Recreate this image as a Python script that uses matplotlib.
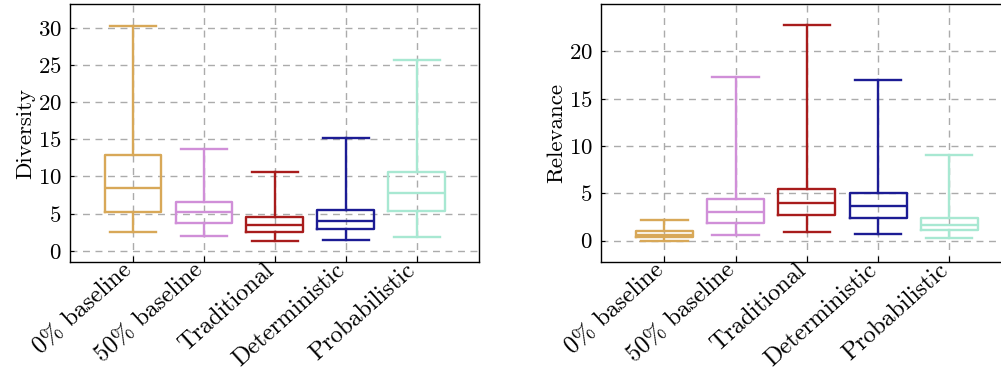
import matplotlib.pyplot as plt

plt.rcParams['font.family'] = ['cmr10', 'DejaVu Serif']
plt.rcParams['axes.formatter.use_mathtext'] = True

methods = ['0% baseline', '50% baseline', 'Traditional', 'Deterministic', 'Probabilistic']
colors = ['#D8A858', '#D08FD8', '#A81C1C', '#1C1C94', '#A8E8D2']

# whisker low, Q1, median, Q3, whisker high
diversity_low = [2.5, 2.0, 1.35, 1.4, 1.85]
diversity_q1 = [5.25, 3.75, 2.55, 2.95, 5.3]
diversity_med = [8.4, 5.2, 3.45, 4.0, 7.8]
diversity_q3 = [12.9, 6.6, 4.6, 5.5, 10.65]
diversity_high = [30.25, 13.75, 10.6, 15.15, 25.65]

relevance_low = [0.02, 0.56, 0.88, 0.7, 0.25]
relevance_q1 = [0.35, 1.87, 2.68, 2.43, 1.1]
relevance_med = [0.63, 3.0, 4.0, 3.66, 1.7]
relevance_q3 = [0.98, 4.37, 5.5, 5.07, 2.43]
relevance_high = [2.22, 17.3, 22.75, 17.0, 9.05]


def make_stats(low, q1, med, q3, high):
    stats = []
    for i in range(len(methods)):
        stats.append(dict(whislo=low[i], q1=q1[i], med=med[i], q3=q3[i],
                          whishi=high[i], fliers=[]))
    return stats


def draw_panel(ax, stats, ylabel, ylim, yticks):
    ax.set_axisbelow(True)
    ax.grid(True, color='#ababab', linestyle=(0, (5, 4)), linewidth=1.0)
    pos = list(range(1, len(methods) + 1))
    bp = ax.bxp(stats, positions=pos, widths=0.8, capwidths=0.65,
                showfliers=False, patch_artist=False)
    for i, c in enumerate(colors):
        for key, n in (('boxes', 1), ('medians', 1), ('whiskers', 2), ('caps', 2)):
            for line in bp[key][i * n:(i + 1) * n]:
                line.set_color(c)
                line.set_linewidth(1.7)
    ax.set_xlim(0.11, 5.88)
    ax.set_ylim(*ylim)
    ax.set_yticks(yticks)
    ax.set_xticks(pos)
    ax.set_xticklabels(methods, rotation=42, ha='right', va='baseline',
                       rotation_mode='anchor', fontsize=17.5)
    ax.tick_params(axis='x', direction='in', length=4, pad=7)
    ax.tick_params(axis='y', direction='in', length=3, labelsize=16.5, pad=6)
    ax.set_ylabel(ylabel, fontsize=16.5, labelpad=2)
    for s in ax.spines.values():
        s.set_linewidth(1.0)


fig = plt.figure(figsize=(10.01, 3.71), dpi=100)
ax1 = fig.add_axes([0.0699, 0.2938, 0.4086, 0.6954])
ax2 = fig.add_axes([0.6004, 0.2938, 0.4106, 0.6954])

draw_panel(ax1, make_stats(diversity_low, diversity_q1, diversity_med, diversity_q3, diversity_high),
           'Diversity', (-1.5, 33.2), [0, 5, 10, 15, 20, 25, 30])
draw_panel(ax2, make_stats(relevance_low, relevance_q1, relevance_med, relevance_q3, relevance_high),
           'Relevance', (-2.25, 25.0), [0, 5, 10, 15, 20])

fig.savefig('out.png', dpi=100)
